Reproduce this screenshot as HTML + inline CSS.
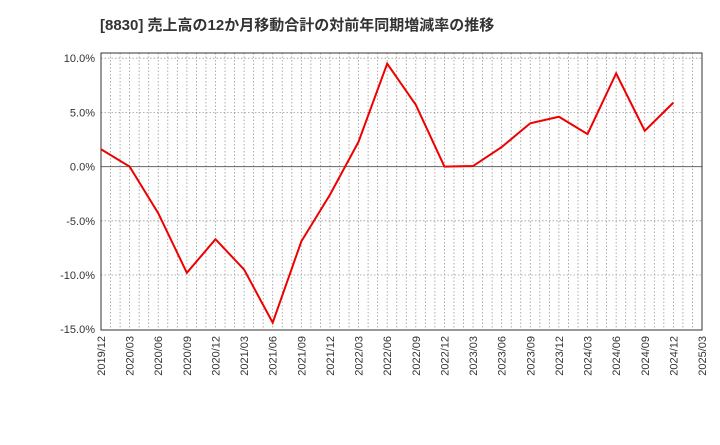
<!DOCTYPE html>
<html><head><meta charset="utf-8"><style>
body{margin:0;background:#fff;width:720px;height:440px;overflow:hidden;font-family:"Liberation Sans","Noto Sans CJK JP",sans-serif}
</style></head><body>
<svg id="c" width="720" height="440" font-family="Liberation Sans, Noto Sans CJK JP, sans-serif">
<text x="100" y="30" font-size="15" font-weight="bold" fill="#333">[8830]  売上高の12か月移動合計の対前年同期増減率の推移</text>
<g id="grid"></g><g id="axes"></g><g id="series"></g>
</svg>
<script>
const categories=["2019/12","2020/03","2020/06","2020/09","2020/12","2021/03","2021/06","2021/09","2021/12","2022/03","2022/06","2022/09","2022/12","2023/03","2023/06","2023/09","2023/12","2024/03","2024/06","2024/09","2024/12"];
const tickLabels=["2019/12","2020/03","2020/06","2020/09","2020/12","2021/03","2021/06","2021/09","2021/12","2022/03","2022/06","2022/09","2022/12","2023/03","2023/06","2023/09","2023/12","2024/03","2024/06","2024/09","2024/12","2025/03"];
const values=[1.6,0.0,-4.3,-9.8,-6.7,-9.5,-14.4,-6.9,-2.6,2.3,9.5,5.7,0.0,0.05,1.8,4.0,4.6,3.0,8.6,3.3,5.9];
const yTicks=[10,5,0,-5,-10,-15];
const yLabels=["10.0%","5.0%","0.0%","-5.0%","-10.0%","-15.0%"];
const NS="http://www.w3.org/2000/svg";
const L=101,R=702,T=53,B=330;
const x=i=>L+(R-L)*i/(tickLabels.length-1);
const y=v=>166.6-(v)*(271/25);
function mk(t,a,p){const e=document.createElementNS(NS,t);for(const k in a)e.setAttribute(k,a[k]);document.getElementById(p).appendChild(e);return e;}
const months=(tickLabels.length-1)*3;
for(let m=1;m<months;m++){const xx=L+(R-L)*m/months;
const e=mk("line",{x1:xx,x2:xx,y1:T,y2:B,stroke:"#999","stroke-dasharray":"1.5,2","stroke-width":0.8},"grid");

}
yTicks.forEach((v,i)=>{
if(v!==-15){const e=mk("line",{x1:L,x2:R,y1:y(v),y2:y(v),stroke:v===0?"#666":"#999","stroke-dasharray":v===0?"":"1.5,2","stroke-width":v===0?1:0.8},"grid");

}
const t=mk("text",{x:L-6,y:y(v)+4,"text-anchor":"end","font-size":11,fill:"#333"},"axes");t.textContent=yLabels[i];


});
tickLabels.forEach((s,i)=>{const xx=x(i);
const t=mk("text",{x:xx+4,y:B+6,"text-anchor":"end","font-size":11,fill:"#333",transform:`rotate(-90 ${xx+4} ${B+6})`},"axes");t.textContent=s;

});
const fr=mk("rect",{x:L,y:T,width:R-L,height:B-T,fill:"none",stroke:"#333","stroke-width":1},"axes");


const pl=mk("polyline",{points:values.map((v,i)=>x(i)+","+y(v)).join(" "),fill:"none",stroke:"#e00",'stroke-width':2},"series");


</script>
</body></html>
